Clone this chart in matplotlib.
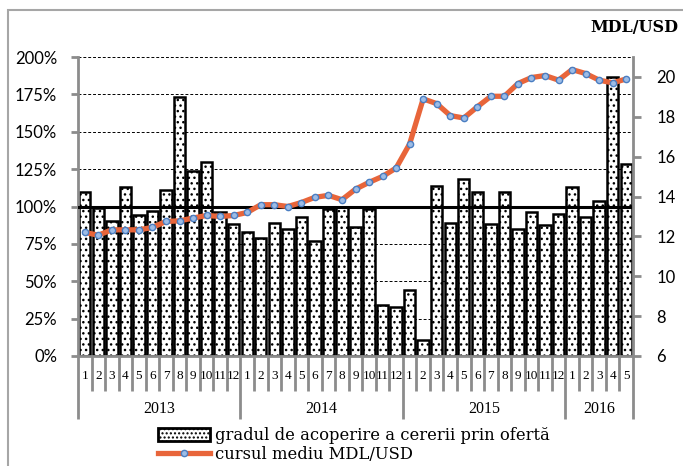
import numpy as np
import matplotlib
matplotlib.use('Agg')
import matplotlib.pyplot as plt
from matplotlib.patches import Rectangle, Patch
from matplotlib.lines import Line2D
from matplotlib.ticker import FuncFormatter

# gradul de acoperire a cererii prin oferta, %  (ian 2013 - mai 2016)
coverage = [110, 99, 90, 113, 94, 97, 111, 173, 124, 130, 96, 88,
            83, 79, 89, 85, 93, 77, 98, 99.5, 86, 98.5, 34, 33,
            44, 11, 113.5, 89, 118.5, 110, 88, 110, 85, 96, 87.5, 95,
            113, 93, 103.5, 186.5, 128.5]
# cursul mediu MDL/USD
rate = [12.2, 12.06, 12.33, 12.33, 12.33, 12.45, 12.75, 12.78, 12.92, 13.05, 13.0, 13.05,
        13.2, 13.59, 13.59, 13.5, 13.7, 13.96, 14.06, 13.84, 14.37, 14.71, 15.01, 15.43,
        16.64, 18.9, 18.66, 18.06, 17.94, 18.5, 19.03, 19.03, 19.67, 19.97, 20.07, 19.84,
        20.37, 20.17, 19.84, 19.7, 19.9]
months = list(range(1, 13)) * 3 + [1, 2, 3, 4, 5]
years = ['2013', '2014', '2015', '2016']
year_len = [12, 12, 12, 5]

plt.rcParams['font.family'] = 'Lato'
gray = '#8C8C8C'
serif = 'Liberation Serif'

fig = plt.figure(figsize=(6.83, 4.66), dpi=100)
ax = fig.add_axes([78/683, 1 - 356/466, (633 - 78)/683, (356 - 57)/466])

x = np.arange(len(coverage))
ax.bar(x, coverage, width=0.84, color='white', edgecolor='black',
       linewidth=1.8, hatch='...', zorder=2)
ax.axhline(100, color='black', lw=2.2, zorder=3)

ax.set_xlim(-0.5, len(coverage) - 0.5)
ax.set_ylim(0, 200)
ax.set_yticks(np.arange(0, 201, 25))
ax.yaxis.set_major_formatter(FuncFormatter(lambda v, p: f'{v:.0f}%'))
ax.set_axisbelow(True)
ax.yaxis.grid(True, linestyle=(0, (3, 2)), color='black', lw=0.7)
ax.tick_params(axis='y', direction='out', length=5, width=2, color=gray,
               pad=10, labelsize=12)

# two-level category axis
bounds = np.cumsum([0] + year_len) - 0.5
ax.set_xticks(bounds)
ax.set_xticklabels([])
ax.set_xticks([i + 0.5 for i in range(len(coverage) - 1) if i + 0.5 not in bounds], minor=True)
ax.tick_params(axis='x', which='major', direction='out', length=45, width=2, color=gray)
ax.tick_params(axis='x', which='minor', direction='out', length=25, width=2, color=gray)
tr = ax.get_xaxis_transform()
for i, m in enumerate(months):
    ax.text(i, -0.068, str(m), transform=tr, ha='center', va='center',
            fontsize=9.5, family=serif)
for k, yr in enumerate(years):
    ax.text((bounds[k] + bounds[k + 1]) / 2, -0.178, yr, transform=tr,
            ha='center', va='center', fontsize=11.5, family=serif)

for s in ['top', 'right']:
    ax.spines[s].set_visible(False)
for s in ['left', 'bottom']:
    ax.spines[s].set_color(gray)
    ax.spines[s].set_linewidth(2)

ax2 = ax.twinx()
ax2.plot(x, rate, color='#E8653A', lw=3.8, marker='o', ms=4.5,
         mfc='#9DBCE6', mec='#4A7EC2', mew=1.0, zorder=5,
         solid_joinstyle='round', solid_capstyle='round')
ax2.set_ylim(6, 21)
ax2.set_yticks(np.arange(6, 21, 2))
ax2.tick_params(axis='y', direction='out', length=6, width=2, color=gray,
                pad=11, labelsize=12)
for s in ['top', 'left', 'bottom']:
    ax2.spines[s].set_visible(False)
ax2.spines['right'].set_color(gray)
ax2.spines['right'].set_linewidth(2)

fig.text(678/683, 1 - 27/466, 'MDL/USD', ha='right', va='center',
         fontsize=11.5, family='DejaVu Serif', weight='bold')

handles = [Patch(facecolor='white', edgecolor='black', hatch='....', linewidth=2),
           Line2D([], [], color='#E8653A', lw=3.8, marker='o', ms=4.5,
                  mfc='#9DBCE6', mec='#4A7EC2', markevery=[1])]
handles[1].set_data([0, 1, 2], [0, 0, 0])
leg = fig.legend(handles, ['gradul de acoperire a cererii prin ofertă',
                           'cursul mediu MDL/USD'],
                 loc='upper left', bbox_to_anchor=(158/683, 1 - 427/466),
                 frameon=False, borderpad=0, borderaxespad=0,
                 handlelength=3.2, handleheight=0.8, handletextpad=0.3,
                 labelspacing=0.1, prop={'family': 'DejaVu Serif', 'size': 11.8})

fig.add_artist(Rectangle((8/683, -0.1), 1.2, 1 - 10/466 + 0.1, transform=fig.transFigure,
                         fill=False, edgecolor='#A6A6A6', lw=1.5))

fig.savefig('out.png', dpi=100)
